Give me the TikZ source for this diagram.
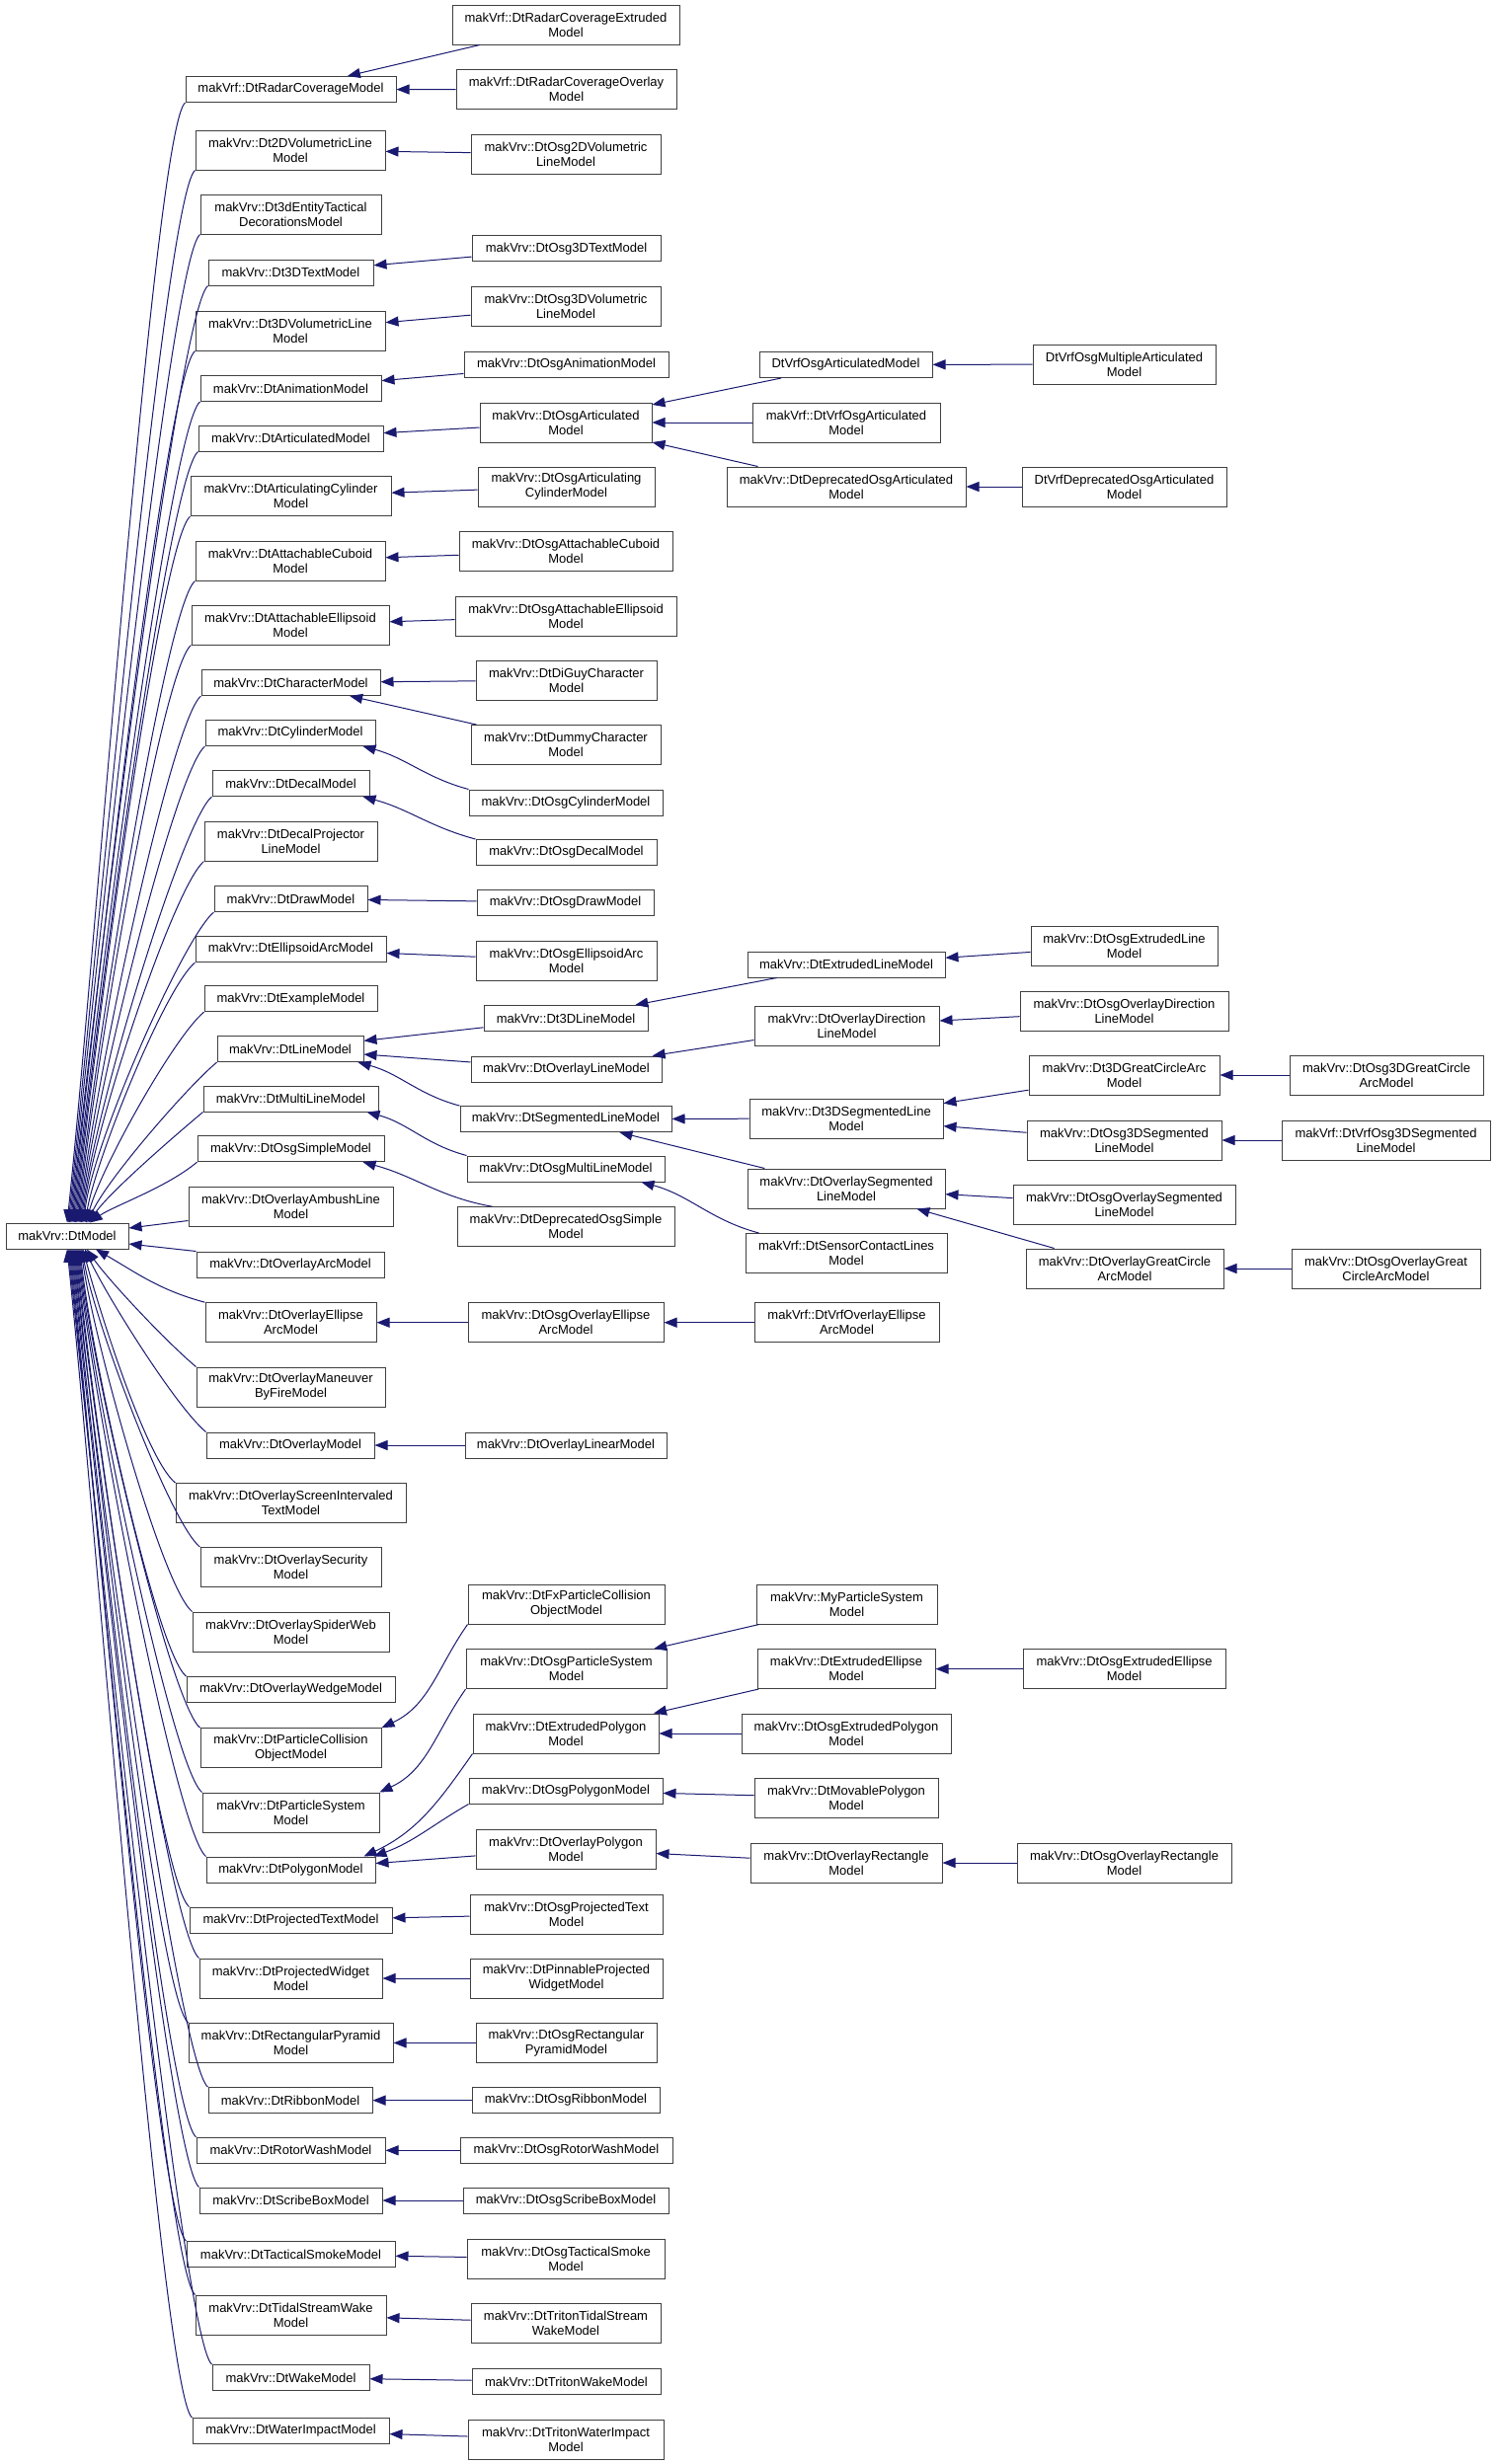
\documentclass[tikz,border=0pt]{standalone}
\usepackage{fontspec}
\setmainfont{Liberation Sans}
\usetikzlibrary{arrows.meta}
\tikzset{>={Triangle[length=6.5pt,width=5pt]}}
\definecolor{edgeblue}{RGB}{25,25,112}
\definecolor{boxgray}{RGB}{64,64,64}
\newcommand{\clsfont}{\fontsize{6.5}{7.5}\selectfont}
\tikzstyle{clsbox}=[draw=boxgray,line width=0.5pt,fill=white,font=\clsfont,align=center,inner xsep=2pt,inner ysep=1pt,minimum height=13pt]
\tikzstyle{inh}=[draw=edgeblue,line width=0.5pt,->]
\tikzset{cls/.style={clsbox,minimum width=#1*0.5pt},
  cls2/.style={clsbox,minimum width=#1*0.5pt,minimum height=20pt},
  fanup/.style={inh,out=220,in=84,out distance=20pt,in looseness=0.6},
  fandown/.style={inh,out=140,in=276,out distance=20pt,in looseness=0.6}}

\begin{document}
\begin{tikzpicture}[x=0.5pt,y=0.5pt]
  \useasboundingbox (0,0) rectangle (1515,-2496);

  % base class
  \node[cls=124] (root) at (68,-1252) {makVrv::DtModel};

  % first level
  \node[cls=213] (radar) at (294.5,-90.5) {makVrf::DtRadarCoverageModel};
  \node[cls2=192] (vol2d) at (294,-152) {makVrv::Dt2DVolumetricLine\\Model};
  \node[cls2=183] (tact) at (294.5,-217) {makVrv::Dt3dEntityTactical\\DecorationsModel};
  \node[cls=167] (text3d) at (294.5,-276) {makVrv::Dt3DTextModel};
  \node[cls2=192] (vol3d) at (294,-335) {makVrv::Dt3DVolumetricLine\\Model};
  \node[cls=183] (anim) at (294.5,-393.5) {makVrv::DtAnimationModel};
  \node[cls=187] (artic) at (294.5,-444) {makVrv::DtArticulatedModel};
  \node[cls2=203] (artcyl) at (294.5,-502.7) {makVrv::DtArticulatingCylinder\\Model};
  \node[cls2=192] (cuboid) at (294,-568) {makVrv::DtAttachableCuboid\\Model};
  \node[cls2=200] (ellipsoid) at (294,-633) {makVrv::DtAttachableEllipsoid\\Model};
  \node[cls=181] (charm) at (294.5,-691.5) {makVrv::DtCharacterModel};
  \node[cls=172] (cyl) at (294,-742.5) {makVrv::DtCylinderModel};
  \node[cls=159] (decal) at (294.5,-793.5) {makVrv::DtDecalModel};
  \node[cls2=175] (decproj) at (294.5,-852) {makVrv::DtDecalProjector\\LineModel};
  \node[cls=155] (drawm) at (294.5,-910.5) {makVrv::DtDrawModel};
  \node[cls=193] (ellarc) at (294.5,-961.5) {makVrv::DtEllipsoidArcModel};
  \node[cls=175] (example) at (294.5,-1011.7) {makVrv::DtExampleModel};
  \node[cls=148] (linem) at (294,-1062.6) {makVrv::DtLineModel};
  \node[cls=177] (multi) at (294.5,-1113) {makVrv::DtMultiLineModel};
  \node[cls=189] (osgsimple) at (294.5,-1163.7) {makVrv::DtOsgSimpleModel};
  \node[cls2=207] (ambush) at (294.5,-1222) {makVrv::DtOverlayAmbushLine\\Model};
  \node[cls=190] (ovarc) at (294,-1281) {makVrv::DtOverlayArcModel};
  \node[cls2=173] (ovellarc) at (294.5,-1339.7) {makVrv::DtOverlayEllipse\\ArcModel};
  \node[cls2=191] (maneuver) at (294.5,-1405) {makVrv::DtOverlayManeuver\\ByFireModel};
  \node[cls=170] (overlay) at (294,-1464) {makVrv::DtOverlayModel};
  \node[cls2=233] (screen) at (294.5,-1522.6) {makVrv::DtOverlayScreenIntervaled\\TextModel};
  \node[cls2=183] (security) at (294.5,-1587.7) {makVrv::DtOverlaySecurity\\Model};
  \node[cls2=199] (spider) at (294.5,-1653) {makVrv::DtOverlaySpiderWeb\\Model};
  \node[cls=211] (wedge) at (294.5,-1711.6) {makVrv::DtOverlayWedgeModel};
  \node[cls2=183] (pcoll) at (294.5,-1770.6) {makVrv::DtParticleCollision\\ObjectModel};
  \node[cls2=179] (psys) at (294.5,-1836) {makVrv::DtParticleSystem\\Model};
  \node[cls=171] (polygon) at (294.5,-1894) {makVrv::DtPolygonModel};
  \node[cls=205] (projtext) at (294.5,-1945) {makVrv::DtProjectedTextModel};
  \node[cls2=185] (widget) at (294.5,-2004) {makVrv::DtProjectedWidget\\Model};
  \node[cls2=207] (pyramid) at (294.5,-2069.4) {makVrv::DtRectangularPyramid\\Model};
  \node[cls=166] (ribbon) at (294,-2127.6) {makVrv::DtRibbonModel};
  \node[cls=191] (rotor) at (294.5,-2178.3) {makVrv::DtRotorWashModel};
  \node[cls=185] (scribe) at (294.5,-2229) {makVrv::DtScribeBoxModel};
  \node[cls=211] (smoke) at (294.5,-2283.6) {makVrv::DtTacticalSmokeModel};
  \node[cls2=193] (tidal) at (294.5,-2345) {makVrv::DtTidalStreamWake\\Model};
  \node[cls=159] (wake) at (294.5,-2408.6) {makVrv::DtWakeModel};
  \node[cls=199] (water) at (294.5,-2462.6) {makVrv::DtWaterImpactModel};

  % second level
  \node[cls2=230] (radarext) at (573,-25) {makVrf::DtRadarCoverageExtruded\\Model};
  \node[cls2=223] (radarov) at (573.5,-90.7) {makVrf::DtRadarCoverageOverlay\\Model};
  \node[cls2=192] (osgvol2d) at (573,-156) {makVrv::DtOsg2DVolumetric\\LineModel};
  \node[cls=191] (osgtext3d) at (573.5,-251.8) {makVrv::DtOsg3DTextModel};
  \node[cls2=192] (osgvol3d) at (573,-310.8) {makVrv::DtOsg3DVolumetric\\LineModel};
  \node[cls=207] (osganim) at (573.5,-369.5) {makVrv::DtOsgAnimationModel};
  \node[cls2=174] (osgartic) at (573,-428) {makVrv::DtOsgArticulated\\Model};
  \node[cls2=179] (osgartcyl) at (573.5,-493) {makVrv::DtOsgArticulating\\CylinderModel};
  \node[cls2=216] (osgcuboid) at (573,-558.6) {makVrv::DtOsgAttachableCuboid\\Model};
  \node[cls2=224] (osgellipsoid) at (573,-624) {makVrv::DtOsgAttachableEllipsoid\\Model};
  \node[cls2=183] (diguy) at (573.5,-689) {makVrv::DtDiGuyCharacter\\Model};
  \node[cls2=192] (dummy) at (573,-754.5) {makVrv::DtDummyCharacter\\Model};
  \node[cls=196] (osgcyl) at (573,-813) {makVrv::DtOsgCylinderModel};
  \node[cls=183] (osgdecal) at (573.5,-863.5) {makVrv::DtOsgDecalModel};
  \node[cls=179] (osgdraw) at (572.5,-914) {makVrv::DtOsgDrawModel};
  \node[cls2=183] (osgellarc) at (573.5,-973) {makVrv::DtOsgEllipsoidArc\\Model};
  \node[cls=166] (line3d) at (573,-1031.5) {makVrv::Dt3DLineModel};
  \node[cls=193] (ovline) at (573.5,-1083) {makVrv::DtOverlayLineModel};
  \node[cls=214] (segline) at (573,-1133.6) {makVrv::DtSegmentedLineModel};
  \node[cls=200] (osgmulti) at (573,-1184) {makVrv::DtOsgMultiLineModel};
  \node[cls2=220] (depsimple) at (573,-1242.7) {makVrv::DtDeprecatedOsgSimple\\Model};
  \node[cls2=198] (osgovellarc) at (573,-1339.7) {makVrv::DtOsgOverlayEllipse\\ArcModel};
  \node[cls=204] (ovlinear) at (573,-1464) {makVrv::DtOverlayLinearModel};
  \node[cls2=199] (fxpcoll) at (573.5,-1625) {makVrv::DtFxParticleCollision\\ObjectModel};
  \node[cls2=203] (osgpsys) at (573.5,-1690.6) {makVrv::DtOsgParticleSystem\\Model};
  \node[cls2=188] (extpoly) at (573,-1756) {makVrv::DtExtrudedPolygon\\Model};
  \node[cls=196] (osgpoly) at (573,-1814) {makVrv::DtOsgPolygonModel};
  \node[cls2=182] (ovpoly) at (573,-1873) {makVrv::DtOverlayPolygon\\Model};
  \node[cls2=195] (osgprojtext) at (573.5,-1939) {makVrv::DtOsgProjectedText\\Model};
  \node[cls2=195] (pinnable) at (573.5,-2004) {makVrv::DtPinnableProjected\\WidgetModel};
  \node[cls2=183] (osgpyramid) at (573.5,-2069.4) {makVrv::DtOsgRectangular\\PyramidModel};
  \node[cls=190] (osgribbon) at (573,-2127.6) {makVrv::DtOsgRibbonModel};
  \node[cls=215] (osgrotor) at (573.5,-2178.3) {makVrv::DtOsgRotorWashModel};
  \node[cls=208] (osgscribe) at (573,-2229) {makVrv::DtOsgScribeBoxModel};
  \node[cls2=200] (osgsmoke) at (573,-2288) {makVrv::DtOsgTacticalSmoke\\Model};
  \node[cls2=192] (tritontidal) at (573,-2353) {makVrv::DtTritonTidalStream\\WakeModel};
  \node[cls=191] (tritonwake) at (573.5,-2412.6) {makVrv::DtTritonWakeModel};
  \node[cls2=198] (tritonwater) at (573,-2471) {makVrv::DtTritonWaterImpact\\Model};

  % third level
  \node[cls=175] (vrfosgartic) at (856.5,-369.5) {DtVrfOsgArticulatedModel};
  \node[cls2=190] (vrfosgartic2) at (857,-428) {makVrf::DtVrfOsgArticulated\\Model};
  \node[cls2=242] (deposgartic) at (857,-493) {makVrv::DtDeprecatedOsgArticulated\\Model};
  \node[cls=200] (extline) at (857,-977) {makVrv::DtExtrudedLineModel};
  \node[cls2=187] (ovdirline) at (857.5,-1039) {makVrv::DtOverlayDirection\\LineModel};
  \node[cls2=196] (seg3d) at (857,-1133) {makVrv::Dt3DSegmentedLine\\Model};
  \node[cls2=200] (ovseg) at (857,-1204) {makVrv::DtOverlaySegmented\\LineModel};
  \node[cls2=204] (sensor) at (857,-1269.5) {makVrf::DtSensorContactLines\\Model};
  \node[cls2=187] (vrfovellarc) at (857.5,-1339.7) {makVrf::DtVrfOverlayEllipse\\ArcModel};
  \node[cls2=183] (mypsys) at (857.5,-1625) {makVrv::MyParticleSystem\\Model};
  \node[cls2=180] (extell) at (857,-1690.6) {makVrv::DtExtrudedEllipse\\Model};
  \node[cls2=212] (osgextpoly) at (857,-1756) {makVrv::DtOsgExtrudedPolygon\\Model};
  \node[cls2=186] (movpoly) at (857,-1821) {makVrv::DtMovablePolygon\\Model};
  \node[cls2=194] (ovrect) at (857,-1887) {makVrv::DtOverlayRectangle\\Model};

  % fourth level
  \node[cls2=185] (multartic) at (1138.5,-369) {DtVrfOsgMultipleArticulated\\Model};
  \node[cls2=207] (vrfdepartic) at (1138.5,-493) {DtVrfDeprecatedOsgArticulated\\Model};
  \node[cls2=189] (osgextline) at (1138.5,-958) {makVrv::DtOsgExtrudedLine\\Model};
  \node[cls2=211] (osgovdir) at (1138.5,-1024) {makVrv::DtOsgOverlayDirection\\LineModel};
  \node[cls2=193] (gca3d) at (1138.5,-1089) {makVrv::Dt3DGreatCircleArc\\Model};
  \node[cls2=197] (osgseg3d) at (1138.5,-1155) {makVrv::DtOsg3DSegmented\\LineModel};
  \node[cls2=225] (osgovseg) at (1138.5,-1220) {makVrv::DtOsgOverlaySegmented\\LineModel};
  \node[cls2=200] (ovgca) at (1139,-1285) {makVrv::DtOverlayGreatCircle\\ArcModel};
  \node[cls2=205] (osgextell) at (1138.5,-1690.6) {makVrv::DtOsgExtrudedEllipse\\Model};
  \node[cls2=217] (osgovrect) at (1138.5,-1887) {makVrv::DtOsgOverlayRectangle\\Model};

  % fifth level
  \node[cls2=196] (osggca3d) at (1404,-1089) {makVrv::DtOsg3DGreatCircle\\ArcModel};
  \node[cls2=211] (vrfosgseg3d) at (1403.5,-1155) {makVrf::DtVrfOsg3DSegmented\\LineModel};
  \node[cls2=191] (osgovgca) at (1403.5,-1285) {makVrv::DtOsgOverlayGreat\\CircleArcModel};

  % edges into the base class, upper half
  \draw[fanup] (radar.south west) to (root.north);
  \draw[fanup] (vol2d.south west) to ([xshift=0.6pt]root.north);
  \draw[fanup] (tact.south west) to ([xshift=1.2pt]root.north);
  \draw[fanup] (text3d.south west) to ([xshift=1.8pt]root.north);
  \draw[fanup] (vol3d.south west) to ([xshift=2.4pt]root.north);
  \draw[fanup] (anim.south west) to ([xshift=3pt]root.north);
  \draw[fanup] (artic.south west) to ([xshift=3.6pt]root.north);
  \draw[fanup] (artcyl.south west) to ([xshift=4.2pt]root.north);
  \draw[fanup] (cuboid.south west) to ([xshift=4.8pt]root.north);
  \draw[fanup] (ellipsoid.south west) to ([xshift=5.4pt]root.north);
  \draw[fanup] (charm.south west) to ([xshift=6pt]root.north);
  \draw[fanup] (cyl.south west) to ([xshift=6.6pt]root.north);
  \draw[fanup] (decal.south west) to ([xshift=7.2pt]root.north);
  \draw[fanup] (decproj.south west) to ([xshift=7.8pt]root.north);
  \draw[fanup] (drawm.south west) to ([xshift=8.4pt]root.north);
  \draw[fanup,in=80] (ellarc.south west) to ([xshift=9pt]root.north);
  \draw[fanup,in=75] (example.south west) to ([xshift=9.6pt]root.north);
  \draw[fanup,in=65] (linem.south west) to ([xshift=10.2pt]root.north);
  \draw[fanup,in=55] (multi.south west) to ([xshift=10.8pt]root.north);
  \draw[fanup,in=35] (osgsimple.south west) to ([xshift=11.4pt]root.north);
  \draw[inh] ([yshift=3pt]ambush.south west) -- ([yshift=4pt]root.east);

  % edges into the base class, lower half
  \draw[inh] (ovarc.north west) -- ([yshift=-4pt]root.east);
  \draw[inh] (ovellarc.north west) to[out=165,in=330] ([xshift=14.5pt]root.south);
  \draw[fandown,in=305] (maneuver.north west) to ([xshift=10pt]root.south);
  \draw[fandown,in=295] (overlay.north west) to ([xshift=9pt]root.south);
  \draw[fandown,in=285] (screen.north west) to ([xshift=8pt]root.south);
  \draw[fandown,in=280] (security.north west) to ([xshift=7.5pt]root.south);
  \draw[fandown,in=278] (spider.north west) to ([xshift=7pt]root.south);
  \draw[fandown] (wedge.north west) to ([xshift=6.5pt]root.south);
  \draw[fandown] (pcoll.north west) to ([xshift=6pt]root.south);
  \draw[fandown] (psys.north west) to ([xshift=5.5pt]root.south);
  \draw[fandown] (polygon.north west) to ([xshift=5pt]root.south);
  \draw[fandown] (projtext.north west) to ([xshift=4.5pt]root.south);
  \draw[fandown] (widget.north west) to ([xshift=4pt]root.south);
  \draw[fandown] (pyramid.north west) to ([xshift=3.5pt]root.south);
  \draw[fandown] (ribbon.north west) to ([xshift=3pt]root.south);
  \draw[fandown] (rotor.north west) to ([xshift=2.5pt]root.south);
  \draw[fandown] (scribe.north west) to ([xshift=2pt]root.south);
  \draw[fandown] (smoke.north west) to ([xshift=1.5pt]root.south);
  \draw[fandown] (tidal.north west) to ([xshift=1pt]root.south);
  \draw[fandown] (wake.north west) to ([xshift=0.5pt]root.south);
  \draw[fandown] (water.north west) to (root.south);

  % second level to first level
  \draw[inh] (radarext) -- (radar);
  \draw[inh] (radarov) -- (radar);
  \draw[inh] (osgvol2d) -- (vol2d);
  \draw[inh] (osgtext3d) -- (text3d);
  \draw[inh] (osgvol3d) -- (vol3d);
  \draw[inh] (osganim) -- (anim);
  \draw[inh] (osgartic) -- (artic);
  \draw[inh] (osgartcyl) -- (artcyl);
  \draw[inh] (osgcuboid) -- (cuboid);
  \draw[inh] (osgellipsoid) -- (ellipsoid);
  \draw[inh] (diguy) -- (charm);
  \draw[inh] (dummy) -- (charm);
  \draw[inh] (osgcyl.north west) to[out=165,in=-15] ([xshift=-6.5pt]cyl.south east);
  \draw[inh] (osgdecal.north west) to[out=165,in=-15] ([xshift=-3.5pt]decal.south east);
  \draw[inh] (osgdraw) -- (drawm);
  \draw[inh] (osgellarc) -- (ellarc);
  \draw[inh] (line3d) -- (linem);
  \draw[inh] (ovline) -- (linem);
  \draw[inh] (segline.north west) to[out=165,in=-15] ([xshift=-3pt]linem.south east);
  \draw[inh] (osgmulti.north west) to[out=165,in=-15] ([xshift=-6pt]multi.south east);
  \draw[inh] ([xshift=18pt]depsimple.north west) to[out=170,in=-15] ([xshift=-11pt]osgsimple.south east);
  \draw[inh] (osgovellarc) -- (ovellarc);
  \draw[inh] (ovlinear) -- (overlay);
  \draw[inh] (fxpcoll.south west) to[out=235,in=25] (pcoll.north east);
  \draw[inh] (osgpsys.south west) to[out=235,in=25] (psys.north east);
  \draw[inh] (extpoly.south west) to[out=235,in=25] ([xshift=-6pt]polygon.north east);
  \draw[inh] (osgpoly.south west) to[out=210,in=20] ([xshift=-1pt]polygon.north east);
  \draw[inh] (ovpoly) -- (polygon);
  \draw[inh] (osgprojtext) -- (projtext);
  \draw[inh] (pinnable) -- (widget);
  \draw[inh] (osgpyramid) -- (pyramid);
  \draw[inh] (osgribbon) -- (ribbon);
  \draw[inh] (osgrotor) -- (rotor);
  \draw[inh] (osgscribe) -- (scribe);
  \draw[inh] (osgsmoke) -- (smoke);
  \draw[inh] (tritontidal) -- (tidal);
  \draw[inh] (tritonwake) -- (wake);
  \draw[inh] (tritonwater) -- (water);

  % third level to second level
  \draw[inh] (vrfosgartic) -- (osgartic);
  \draw[inh] (vrfosgartic2) -- (osgartic);
  \draw[inh] (deposgartic) -- (osgartic);
  \draw[inh] (extline) -- (line3d);
  \draw[inh] (ovdirline) -- (ovline);
  \draw[inh] (seg3d) -- (segline);
  \draw[inh] (ovseg) -- (segline);
  \draw[inh] ([xshift=7pt]sensor.north west) to[out=165,in=-15] ([xshift=-12pt]osgmulti.south east);
  \draw[inh] (vrfovellarc) -- (osgovellarc);
  \draw[inh] (mypsys) -- (osgpsys);
  \draw[inh] (extell) -- (extpoly);
  \draw[inh] (osgextpoly) -- (extpoly);
  \draw[inh] (movpoly) -- (osgpoly);
  \draw[inh] (ovrect) -- (ovpoly);

  % fourth level to third level
  \draw[inh] (multartic) -- (vrfosgartic);
  \draw[inh] (vrfdepartic) -- (deposgartic);
  \draw[inh] (osgextline) -- (extline);
  \draw[inh] (osgovdir) -- (ovdirline);
  \draw[inh] (gca3d) -- (seg3d);
  \draw[inh] (osgseg3d) -- (seg3d);
  \draw[inh] (osgovseg) -- (ovseg);
  \draw[inh] (ovgca) -- (ovseg);
  \draw[inh] (osgextell) -- (extell);
  \draw[inh] (osgovrect) -- (ovrect);

  % fifth level to fourth level
  \draw[inh] (osggca3d) -- (gca3d);
  \draw[inh] (vrfosgseg3d) -- (osgseg3d);
  \draw[inh] (osgovgca) -- (ovgca);
\end{tikzpicture}
\end{document}
